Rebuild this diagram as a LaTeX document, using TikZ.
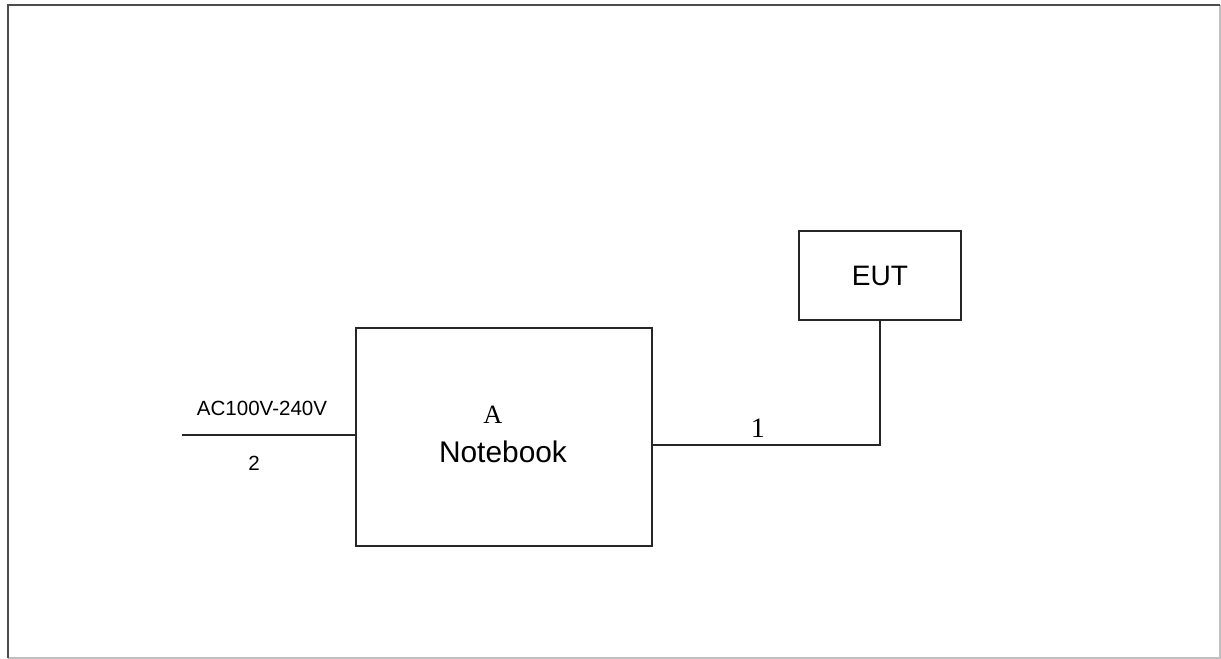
\documentclass[tikz,border=0pt]{standalone}
\usepackage{fontspec}
\setmainfont{Liberation Sans}
\newfontfamily\serifnum{Liberation Serif}
\usetikzlibrary{positioning}

\begin{document}
\begin{tikzpicture}[
  x=0.02cm, y=-0.02cm,
  box/.style={draw=black!85, line width=0.9pt, inner sep=0pt},
  bigbox/.style={box, minimum width=5.92cm, minimum height=4.36cm},
  smallbox/.style={box, minimum width=3.24cm, minimum height=1.78cm, font=\fontsize{16}{19}\selectfont},
  wire/.style={draw=black!85, line width=0.9pt},
  lbl/.style={inner sep=0pt, font=\fontsize{11.7}{14}\selectfont},
  numlbl/.style={inner sep=0pt, font=\serifnum\fontsize{16}{19}\selectfont}
]
\useasboundingbox (0,0) rectangle (1221,659);
% frame
\draw[black!25, line width=0.8pt] (8,658) -- (1220,658) -- (1220,5);
\draw[black!70, line width=1pt] (8,658) -- (8,5) -- (1220,5);

\node[bigbox] (nb) at (504,437) {};
\node[numlbl, font=\serifnum\fontsize{15}{18}\selectfont] (nbA) at (493,415) {A};
\node[inner sep=0pt, font=\fontsize{17}{20}\selectfont] (nbname) at (503,452) {Notebook};
\node[smallbox] (eut) at (880,275.5) {EUT};

\coordinate (pwr) at (182,435);
\node[lbl] (acv) at (262,408) {AC100V-240V};
\node[lbl] (pwrnum) at (254,463) {2};
\node[numlbl] (cblnum) at (758,428) {1};

\draw[wire] (pwr) -- (pwr -| nb.west);
\draw[wire] ([yshift=-0.16cm]nb.east) -| (eut.south);
\end{tikzpicture}
\end{document}
